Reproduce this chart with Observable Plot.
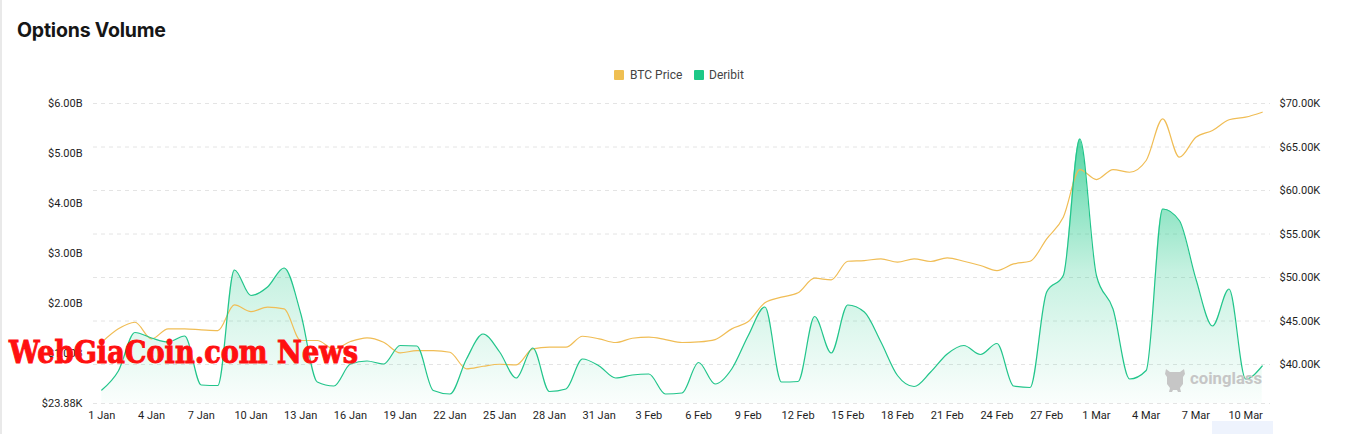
<!DOCTYPE html>
<html>
<head>
<meta charset="utf-8">
<script src="https://cdn.jsdelivr.net/npm/d3@7"></script>
<script src="https://cdn.jsdelivr.net/npm/@observablehq/plot@0.6"></script>
<style>
  body { margin: 0; background: #fff; }
  #wrap { position: relative; width: 1355px; height: 434px; overflow: hidden; font-family: Roboto, "Noto Sans", sans-serif; }
  #border { position: absolute; left: 0; top: 0; width: 2px; height: 434px; background: #e9e9e9; }
  #title { position: absolute; left: 17px; top: 18px; font: 700 19.5px Inter, Roboto, sans-serif; color: #161616; letter-spacing: -0.2px; }
  .lg-sw { position: absolute; top: 70px; width: 10px; height: 10px; border-radius: 1px; }
  .lg-tx { position: absolute; top: 67px; font: 400 12px Roboto, sans-serif; color: #444; line-height: 16px; }
  #chart { position: absolute; left: 0; top: 90px; }
  #over { position: absolute; left: 0; top: 0; pointer-events: none; }
  #tab { position: absolute; left: 1212px; top: 421px; width: 61px; height: 13px; background: #eef3fd; }
</style>
</head>
<body>
<div id="wrap">
  <div id="border"></div>
  <div id="title">Options Volume</div>
  <div class="lg-sw" style="left:614px;background:#efbf52"></div>
  <div class="lg-tx" style="left:630px">BTC Price</div>
  <div class="lg-sw" style="left:694px;background:#1dc887"></div>
  <div class="lg-tx" style="left:709px">Deribit</div>
  <div id="chart"></div>
  <div id="tab"></div>
  <svg id="over" width="1355" height="434">
    <g fill="#c6c6c6">
      <path d="M1166,369 l4,3 h10 l4,-3 l1,5 l-2,3 v7 l-3,4 l1,4 h-3 l-1,-2 h-4 l-1,2 h-3 l1,-4 l-3,-4 v-7 l-2,-3 z"/>
      <text x="1190" y="384" font-family="Roboto, sans-serif" font-weight="700" font-size="17" textLength="72" lengthAdjust="spacingAndGlyphs">coinglass</text>
    </g>
    <text x="9" y="363" fill="#ff1010" stroke="#ff1010" stroke-width="1" style="font-family:'DejaVu Serif';font-weight:bold;font-size:31px" textLength="349" lengthAdjust="spacingAndGlyphs">WebGiaCoin.com News</text>
  </svg>
</div>
<script>
// Daily categories: 1 Jan 2024 .. 11 Mar 2024
const dates = d3.utcDay.range(new Date(Date.UTC(2024, 0, 1)), new Date(Date.UTC(2024, 2, 12)));

// Deribit options volume (billions USD)
const deribit = [
  0.27, 0.65, 1.42, 1.31, 1.23, 1.35, 0.37, 0.36, 2.67, 2.16,
  2.33, 2.71, 1.80, 0.43, 0.35, 0.79, 0.85, 0.79, 1.16, 1.15,
  0.26, 0.19, 0.89, 1.39, 1.03, 0.51, 1.11, 0.24, 0.29, 0.89,
  0.75, 0.51, 0.57, 0.59, 0.19, 0.21, 0.82, 0.39, 0.69, 1.36,
  1.93, 0.43, 0.44, 1.74, 1.01, 1.97, 1.83, 1.23, 0.56, 0.34,
  0.63, 0.99, 1.16, 0.98, 1.20, 0.35, 0.32, 2.23, 2.56, 5.29,
  2.56, 1.89, 0.49, 0.66, 3.89, 3.66, 2.49, 1.55, 2.29, 0.49,
  0.75
];

// BTC price (thousands USD)
const btcPrice = [
  42.56, 44.10, 44.86, 42.95, 44.10, 44.10, 43.99, 43.90, 46.86, 46.09,
  46.59, 46.40, 42.76, 42.76, 41.80, 42.64, 43.07, 42.56, 41.34, 41.60,
  41.60, 41.41, 39.50, 39.80, 40.03, 39.96, 41.80, 41.99, 41.99, 43.25,
  42.95, 42.53, 43.02, 43.14, 42.87, 42.53, 42.60, 42.87, 44.10, 44.94,
  47.09, 47.74, 48.24, 49.92, 49.73, 51.87, 51.95, 52.14, 51.76, 52.14,
  51.84, 52.26, 51.87, 51.38, 50.80, 51.57, 51.87, 54.45, 56.93, 62.41,
  61.26, 62.41, 62.10, 63.45, 68.24, 63.83, 66.13, 66.90, 68.13, 68.43,
  69.00
];

// Axis ticks
const leftTicks = [0, 1, 2, 3, 4, 5, 6];            // billions
const leftMinLabel = "$23.88K";
const rightTicks = [40, 45, 50, 55, 60, 65, 70];    // thousands
const rightDomain = [35.52, 70];
const xTickDates = dates.filter((d, i) => i % 3 === 0);

// Map price onto the volume scale (dual axis)
const toY = p => (p - rightDomain[0]) / (rightDomain[1] - rightDomain[0]) * 6;
const fromY = v => rightDomain[0] + v / 6 * (rightDomain[1] - rightDomain[0]);

const data = dates.map((d, i) => ({ date: d, deribit: deribit[i], btcY: toY(btcPrice[i]) }));

const gradient = () => {
  const defs = d3.create("svg:defs");
  const g = defs.append("linearGradient").attr("id", "volGrad")
    .attr("x1", 0).attr("y1", 0).attr("x2", 0).attr("y2", 1);
  [[0, 0.72], [0.5, 0.25], [0.72, 0.14], [1, 0.02]].forEach(([o, a]) =>
    g.append("stop").attr("offset", o).attr("stop-color", "rgb(22,199,132)").attr("stop-opacity", a));
  return defs.node();
};

const chart = Plot.plot({
  width: 1355,
  height: 344,
  marginTop: 13,
  marginBottom: 31,
  marginLeft: 93,
  marginRight: 85,
  style: { fontFamily: "Roboto, sans-serif", fontSize: "11px", color: "#1e1e1e", background: "transparent", overflow: "visible" },
  x: { type: "utc", domain: [new Date(Date.UTC(2023, 11, 31, 12)), new Date(Date.UTC(2024, 2, 11, 12))], axis: null },
  y: { domain: [0, 6], axis: null },
  marks: [
    gradient,
    Plot.gridY([0, ...rightTicks.map(toY)], { stroke: "#e4e4e4", strokeOpacity: 1, strokeDasharray: "4 4" }),
    Plot.areaY(data, { x: "date", y: "deribit", curve: "monotone-x", fill: "url(#volGrad)" }),
    Plot.lineY(data, { x: "date", y: "btcY", curve: "monotone-x", stroke: "#f0bd55", strokeWidth: 1.2 }),
    Plot.lineY(data, { x: "date", y: "deribit", curve: "monotone-x", stroke: "#22c58b", strokeWidth: 1.2 }),
    Plot.axisY(leftTicks, { anchor: "left", tickSize: 0, tickPadding: 11,
      tickFormat: v => v === 0 ? leftMinLabel : `$${v.toFixed(2)}B` }),
    Plot.axisY(rightTicks.map(toY), { anchor: "right", tickSize: 0, tickPadding: 9,
      tickFormat: v => `$${(Math.round(fromY(v) * 100) / 100).toFixed(2)}K` }),
    Plot.axisX(xTickDates, { anchor: "bottom", tickSize: 0, tickPadding: 8,
      tickFormat: d3.utcFormat("%-d %b") })
  ]
});
document.getElementById("chart").appendChild(chart);
</script>
</body>
</html>
